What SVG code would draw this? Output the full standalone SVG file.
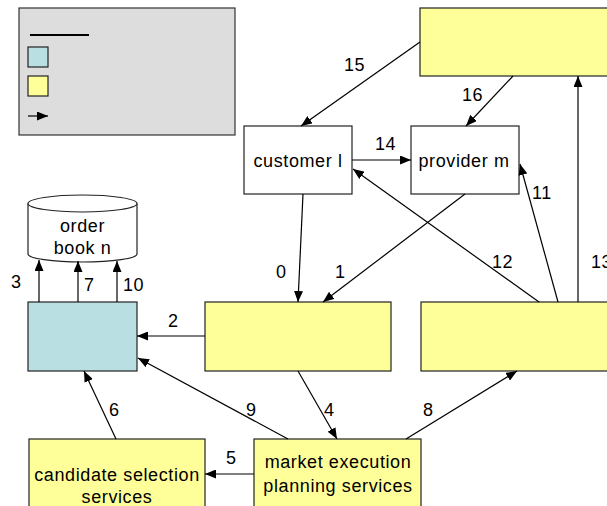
<svg xmlns="http://www.w3.org/2000/svg" width="607" height="506" viewBox="0 0 607 506">
<defs>
<marker id="ah" markerUnits="userSpaceOnUse" markerWidth="12" markerHeight="9" refX="11" refY="4.5" orient="auto">
<path d="M0,0 L11,4.5 L0,9 z" fill="#000"/>
</marker>
<style>
.box{stroke:#222;stroke-width:1.2}
.y{fill:#ffff99}
.t{fill:#b9dfe2}
.w{fill:#fff}
text{font-family:"Liberation Sans",Arial,sans-serif;font-size:18px;fill:#000;letter-spacing:0.6px}
.c{text-anchor:middle}
.e{stroke:#000;stroke-width:1.2;fill:none;marker-end:url(#ah)}
</style>
</defs>
<rect width="607" height="506" fill="#fff"/>
<g id="legend">
<rect x="19" y="8" width="216" height="127" fill="#dddddd" stroke="#333" stroke-width="1.2"/>
<line x1="30" y1="35" x2="89" y2="35" stroke="#000" stroke-width="2"/>
<rect class="box t" x="28" y="47" width="20" height="20"/>
<rect class="box y" x="28" y="76" width="20" height="20"/>
<line class="e" x1="28" y1="116" x2="48" y2="116"/>
</g>
<g id="top-box"><rect class="box y" x="420" y="8" width="200" height="68"/></g>
<g id="customer"><rect class="box w" x="244" y="126" width="108" height="68"/><text class="c" x="298" y="167">customer l</text></g>
<g id="provider"><rect class="box w" x="411" y="126" width="108" height="68"/><text class="c" x="464" y="167">provider m</text></g>
<g id="orderbook">
<path class="box w" d="M28,203.5 L28,254 A54.5,8 0 0 0 137,254 L137,203.5"/>
<ellipse class="box w" cx="82.5" cy="203.5" rx="54.5" ry="8.5"/>
<text class="c" x="82.5" y="232">order</text>
<text class="c" x="82.5" y="254">book n</text>
</g>
<g id="teal-box"><rect class="box t" x="28" y="302" width="109" height="69"/></g>
<g id="mid-box"><rect class="box y" x="205" y="302" width="186" height="69"/></g>
<g id="right-box"><rect class="box y" x="421" y="302" width="200" height="69"/></g>
<g id="candidate"><rect class="box y" x="29" y="439" width="176" height="80"/><text class="c" x="117" y="481">candidate selection</text><text class="c" x="117" y="503">services</text></g>
<g id="market"><rect class="box y" x="254" y="439" width="167" height="80"/><text class="c" x="338" y="468">market execution</text><text class="c" x="338" y="492">planning services</text></g>
<g id="connectors">
<line class="e" x1="303" y1="194" x2="298" y2="302"/>
<line class="e" x1="465" y1="194" x2="323" y2="302"/>
<line class="e" x1="205" y1="336" x2="137" y2="336"/>
<line class="e" x1="39" y1="302" x2="39" y2="260"/>
<line class="e" x1="78" y1="302" x2="78" y2="261"/>
<line class="e" x1="117" y1="302" x2="117" y2="261"/>
<line class="e" x1="298" y1="371" x2="337" y2="439"/>
<line class="e" x1="254" y1="474" x2="205" y2="474"/>
<line class="e" x1="116" y1="439" x2="84" y2="371"/>
<line class="e" x1="406" y1="439" x2="517" y2="371"/>
<line class="e" x1="288" y1="439" x2="138" y2="358"/>
<line class="e" x1="558" y1="302" x2="520" y2="164"/>
<line class="e" x1="539" y1="302" x2="353" y2="169"/>
<line class="e" x1="578" y1="302" x2="578" y2="76"/>
<line class="e" x1="352" y1="160" x2="411" y2="160"/>
<line class="e" x1="420" y1="42" x2="301" y2="126"/>
<line class="e" x1="513" y1="76" x2="466" y2="126"/>
<text x="276" y="278">0</text>
<text x="335" y="278">1</text>
<text x="168" y="327">2</text>
<text x="11" y="288">3</text>
<text x="84" y="291">7</text>
<text x="123" y="291">10</text>
<text x="324" y="416">4</text>
<text x="226" y="464">5</text>
<text x="109" y="416">6</text>
<text x="423" y="416">8</text>
<text x="246" y="416">9</text>
<text x="532" y="199">11</text>
<text x="492" y="268">12</text>
<text x="591" y="268">13</text>
<text x="375" y="150">14</text>
<text x="344" y="71">15</text>
<text x="462" y="101">16</text>
</g>
</svg>
